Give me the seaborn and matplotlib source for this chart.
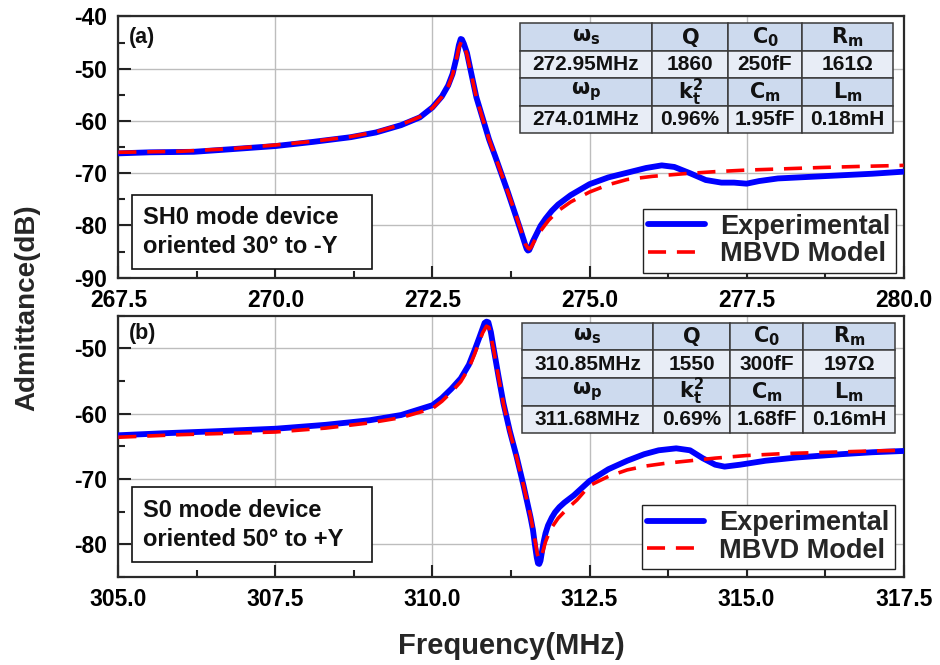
import numpy as np
import pandas as pd
import seaborn as sns
import matplotlib
matplotlib.use("Agg")
import matplotlib.pyplot as plt
from matplotlib.ticker import MultipleLocator, FormatStrFormatter
from matplotlib.patches import Rectangle

# ---------------- data ----------------
# (a) SH0 mode device oriented 30 deg to -Y
sh0_freq_exp = [267.5, 268.0, 268.7, 269.3, 270.0, 270.6, 271.2, 271.6, 272.0, 272.3,
                272.5, 272.65, 272.75, 272.82, 272.88, 272.92, 272.95, 272.97, 273.0,
                273.05, 273.12, 273.2, 273.3, 273.4, 273.5, 273.6, 273.7, 273.8, 273.9,
                273.98, 274.0, 274.02, 274.04, 274.07, 274.1, 274.15, 274.22, 274.3,
                274.4, 274.5, 274.7, 275.0, 275.3, 275.6, 275.9, 276.15, 276.35, 276.6,
                276.85, 277.1, 277.3, 277.5, 277.7, 278.0, 278.5, 279.0, 279.5, 280.0]
sh0_db_exp = [-66.2, -66.0, -65.9, -65.4, -64.8, -64.0, -63.1, -62.2, -60.8, -59.3,
              -57.4, -55.3, -53.2, -51.0, -48.0, -45.5, -44.3, -44.4, -45.2,
              -47.0, -51.0, -55.5, -59.5, -63.5, -66.8, -70.2, -73.6, -77.2, -80.8,
              -83.8, -84.5, -84.8, -84.7, -83.9, -83.0, -81.8, -80.1, -78.7,
              -77.2, -76.0, -74.2, -72.1, -70.8, -69.9, -69.0, -68.5, -68.8, -70.0,
              -71.3, -71.8, -71.8, -72.0, -71.5, -71.0, -70.7, -70.4, -70.1, -69.7]

sh0_freq_mod = [267.5, 268.5, 269.3, 270.0, 270.6, 271.2, 271.6, 272.0, 272.3, 272.5,
                272.65, 272.75, 272.82, 272.88, 272.92, 272.96, 272.98, 273.01, 273.05,
                273.12, 273.2, 273.3, 273.4, 273.5, 273.6, 273.7, 273.8, 273.9, 273.98,
                274.02, 274.04, 274.07, 274.1, 274.15, 274.2, 274.28, 274.35, 274.5,
                274.7, 275.0, 275.3, 275.6, 276.0, 276.5, 277.0, 277.5, 278.0, 278.7,
                279.3, 280.0]
sh0_db_mod = [-66.0, -65.8, -65.3, -64.6, -63.9, -63.0, -62.1, -60.7, -59.2, -57.5,
              -55.4, -53.4, -51.2, -48.3, -46.0, -44.8, -44.9, -45.8, -47.3,
              -51.2, -55.6, -59.6, -63.5, -66.8, -70.2, -73.6, -77.0, -80.6, -83.6,
              -84.3, -84.5, -84.2, -83.5, -82.4, -81.4, -80.1, -79.0, -77.2,
              -75.5, -73.6, -72.2, -71.2, -70.6, -70.1, -69.7, -69.4, -69.2, -68.9,
              -68.7, -68.5]

# (b) S0 mode device oriented 50 deg to +Y
s0_freq_exp = [305.0, 305.7, 306.5, 307.5, 308.3, 309.0, 309.5, 310.0, 310.15, 310.3,
               310.45, 310.58, 310.67, 310.74, 310.8, 310.83, 310.86, 310.89, 310.93,
               310.97, 311.05, 311.13, 311.23, 311.34, 311.45, 311.56, 311.6, 311.63,
               311.66, 311.68, 311.7, 311.72, 311.745, 311.77, 311.8, 311.84, 311.9,
               311.95, 312.02, 312.1, 312.25, 312.5, 312.8, 313.1, 313.37, 313.6,
               313.88, 314.1, 314.3, 314.5, 314.65, 314.9, 315.3, 315.8, 316.5,
               317.0, 317.5]
s0_db_exp = [-63.3, -63.0, -62.7, -62.3, -61.7, -61.0, -60.2, -58.7, -57.6, -56.2,
             -54.6, -52.5, -50.3, -48.5, -46.9, -46.1, -45.9, -46.0, -47.5,
             -49.8, -54.2, -58.4, -62.6, -66.6, -71.0, -75.8, -77.8, -80.0,
             -82.0, -82.9, -83.0, -82.5, -81.0, -79.6, -78.3, -77.1, -75.9,
             -75.1, -74.3, -73.6, -72.5, -70.3, -68.5, -67.2, -66.2, -65.6,
             -65.3, -65.6, -66.8, -67.8, -68.1, -67.8, -67.2, -66.7, -66.2,
             -65.9, -65.7]

s0_freq_mod = [305.0, 306.0, 307.5, 308.3, 309.0, 309.5, 310.0, 310.15, 310.3, 310.45,
               310.58, 310.67, 310.74, 310.8, 310.86, 310.9, 310.97, 311.05, 311.13,
               311.23, 311.34, 311.45, 311.56, 311.64, 311.67, 311.7, 311.73, 311.76,
               311.8, 311.85, 311.9, 312.0, 312.15, 312.3, 312.5, 312.8, 313.1,
               313.4, 313.7, 314.0, 314.5, 315.0, 315.6, 316.3, 317.0, 317.5]
s0_db_mod = [-63.6, -63.2, -62.8, -62.2, -61.4, -60.6, -59.2, -58.1, -56.7, -55.1,
             -53.0, -50.9, -49.1, -47.6, -46.6, -46.8, -50.0, -54.3, -58.5,
             -62.7, -66.7, -71.0, -75.6, -79.8, -81.5, -82.3, -82.0, -81.0,
             -79.6, -78.4, -77.4, -76.0, -74.5, -73.2, -71.0, -69.6, -68.6,
             -68.0, -67.6, -67.3, -66.8, -66.4, -66.1, -65.9, -65.7, -65.6]

# fitted MBVD parameters
param_heads_1 = [r"$\mathbf{\omega_s}$", r"$\mathbf{Q}$", r"$\mathbf{C_0}$", r"$\mathbf{R_m}$"]
param_heads_2 = [r"$\mathbf{\omega_p}$", r"$\mathbf{k_t^2}$", r"$\mathbf{C_m}$", r"$\mathbf{L_m}$"]
sh0_vals_1 = ["272.95MHz", "1860", "250fF", "161Ω"]
sh0_vals_2 = ["274.01MHz", "0.96%", "1.95fF", "0.18mH"]
s0_vals_1 = ["310.85MHz", "1550", "300fF", "197Ω"]
s0_vals_2 = ["311.68MHz", "0.69%", "1.68fF", "0.16mH"]

# axis settings
sh0_xlim, sh0_ylim = (267.5, 280.0), (-90, -40)
s0_xlim, s0_ylim = (305.0, 317.5), (-85, -45)

sh0_note = "SH0 mode device\noriented 30° to -Y"
s0_note = "S0 mode device\noriented 50° to +Y"
series_labels = ["Experimental", "MBVD Model"]

# ---------------- style ----------------
sns.set_theme(style="ticks")
plt.rcParams["font.family"] = ["Liberation Sans", "DejaVu Sans"]
plt.rcParams["font.weight"] = "bold"
plt.rcParams["mathtext.fontset"] = "dejavusans"
plt.rcParams["axes.linewidth"] = 1.6
plt.rcParams["axes.unicode_minus"] = False

BODY_FONT = ["Liberation Sans", "DejaVu Sans"]
EXP_COLOR = "#0000ff"
MOD_COLOR = "#ff0000"
HEAD_FILL = "#cddaee"
VAL_FILL = "#e8edf6"

fig = plt.figure(figsize=(9.4, 6.65), dpi=100)
ax_a = fig.add_axes([0.1259, 0.5824, 0.8354, 0.3928])
ax_b = fig.add_axes([0.1259, 0.1323, 0.8354, 0.3929])


def draw_panel(ax, fexp, dexp, fmod, dmod, xlim, ylim, heads1, vals1, heads2, vals2,
               table_box, note, note_box, tag, tag_pos, legend_anchor):
    ax.set_facecolor("white")
    exp_df = pd.DataFrame({"f": fexp, "y": dexp})
    mod_df = pd.DataFrame({"f": fmod, "y": dmod})
    sns.lineplot(data=exp_df, x="f", y="y", ax=ax, color=EXP_COLOR, linewidth=4.2,
                 sort=False, estimator=None, label=series_labels[0], legend=False,
                 solid_capstyle="round", solid_joinstyle="round", zorder=3)
    sns.lineplot(data=mod_df, x="f", y="y", ax=ax, color=MOD_COLOR, linewidth=2.6,
                 sort=False, estimator=None, label=series_labels[1], legend=False,
                 linestyle=(0, (5, 3)), zorder=4)

    ax.set_xlim(*xlim)
    ax.set_ylim(*ylim)
    ax.set_xlabel("")
    ax.set_ylabel("")
    ax.xaxis.set_major_locator(MultipleLocator(2.5))
    ax.xaxis.set_minor_locator(MultipleLocator(1.25))
    ax.xaxis.set_major_formatter(FormatStrFormatter("%.1f"))
    ax.yaxis.set_major_locator(MultipleLocator(10))
    ax.yaxis.set_minor_locator(MultipleLocator(5))
    ax.tick_params(which="major", direction="in", length=9, width=1.5,
                   labelsize=16.5, pad=8, colors="#222222", top=False, right=False)
    ax.tick_params(which="minor", direction="in", length=5, width=1.5,
                   colors="#222222", top=False, right=False)
    for lab in ax.get_xticklabels() + ax.get_yticklabels():
        lab.set_fontweight("bold")
        lab.set_color("black")
    ax.grid(True, which="major", color="#bdbdbd", linewidth=1.0, zorder=0)
    for sp in ax.spines.values():
        sp.set_visible(True)
        sp.set_color("#2a2a2a")
        sp.set_linewidth(1.6)

    # parameter table
    cells = [heads1, vals1, heads2, vals2]
    colours = [[HEAD_FILL] * 4, [VAL_FILL] * 4, [HEAD_FILL] * 4, [VAL_FILL] * 4]
    x0, y0, w, h = table_box
    tbl = ax.table(cellText=cells, cellColours=colours, cellLoc="center",
                   colWidths=[0.3528 * w, 0.2052 * w, 0.1966 * w, 0.2454 * w],
                   bbox=[x0, y0, w, h], zorder=6)
    tbl.auto_set_font_size(False)
    for (r, c), cell in tbl.get_celld().items():
        cell.set_edgecolor("#3a3a3a")
        cell.set_linewidth(1.1)
        t = cell.get_text()
        t.set_fontsize(15)
        t.set_fontweight("bold")
        t.set_color("#111111")
        if r in (1, 3):
            t.set_fontfamily(BODY_FONT)

    # description box
    bx, by, bw, bh = note_box
    ax.add_patch(Rectangle((bx, by), bw, bh, transform=ax.transAxes, facecolor="white",
                           edgecolor="#111111", linewidth=1.2, zorder=6))
    ax.text(bx + 0.0147, by + bh / 2, note, transform=ax.transAxes, ha="left",
            va="center", fontsize=17, fontweight="bold", family=BODY_FONT,
            linespacing=1.3, color="#111111", zorder=7)

    # panel tag
    ax.text(tag_pos[0], tag_pos[1], tag, transform=ax.transAxes, ha="left", va="center",
            fontsize=15.5, fontweight="bold", family=BODY_FONT, color="#111111", zorder=7)

    leg = ax.legend(loc="lower right", bbox_to_anchor=legend_anchor, borderaxespad=0,
                    frameon=True, fancybox=False, framealpha=1,
                    edgecolor="#222222", handlelength=2.1, handletextpad=0.57,
                    labelspacing=0.05, borderpad=0.2, prop={"weight": "bold", "size": 19.5})
    leg.get_frame().set_linewidth(1.0)
    leg.set_zorder(8)


draw_panel(ax_a, sh0_freq_exp, sh0_db_exp, sh0_freq_mod, sh0_db_mod, sh0_xlim, sh0_ylim,
           param_heads_1, sh0_vals_1, param_heads_2, sh0_vals_2,
           table_box=(0.5115, 0.5528, 0.4754, 0.4211),
           note=sh0_note, note_box=(0.0171, 0.0322, 0.3056, 0.2845),
           tag="(a)", tag_pos=(0.014, 0.9204), legend_anchor=(0.9903, 0.0191))

draw_panel(ax_b, s0_freq_exp, s0_db_exp, s0_freq_mod, s0_db_mod, s0_xlim, s0_ylim,
           param_heads_1, s0_vals_1, param_heads_2, s0_vals_2,
           table_box=(0.5137, 0.55, 0.4754, 0.4233),
           note=s0_note, note_box=(0.0171, 0.0563, 0.3056, 0.287),
           tag="(b)", tag_pos=(0.0128, 0.9338), legend_anchor=(0.989, 0.0306))

fig.text(0.0287, 0.538, "Admittance(dB)", rotation=90, ha="center", va="center",
         fontsize=20, fontweight="bold")
fig.text(0.5436, 0.0293, "Frequency(MHz)", ha="center", va="center",
         fontsize=21, fontweight="bold")

fig.savefig("out.png", dpi=100, facecolor="white")
